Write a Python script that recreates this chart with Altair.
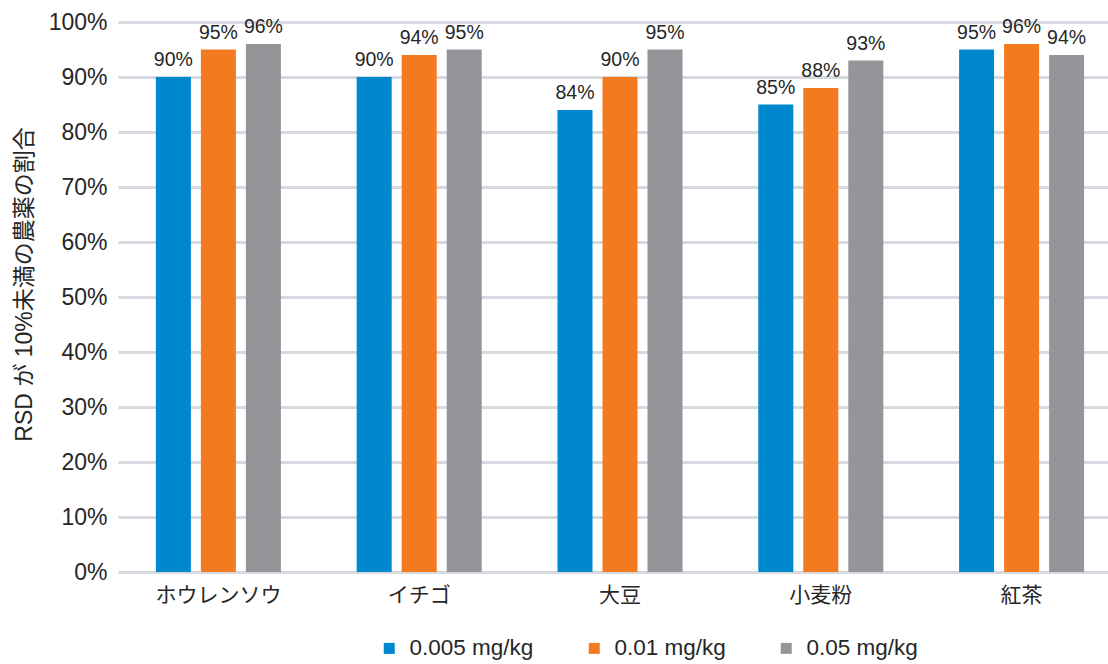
import altair as alt
import pandas as pd

# Share of pesticides with RSD below 10%, per matrix and spiking level
foods = ["ホウレンソウ", "イチゴ", "大豆", "小麦粉", "紅茶"]
levels = ["0.005 mg/kg", "0.01 mg/kg", "0.05 mg/kg"]
pct_0005 = [90, 90, 84, 85, 95]
pct_001 = [95, 94, 90, 88, 96]
pct_005 = [96, 95, 95, 93, 94]
level_colors = ["#0088cf", "#f47a20", "#939598"]
y_ticks = [0, 10, 20, 30, 40, 50, 60, 70, 80, 90, 100]

rows = []
for lvl, vals in zip(levels, [pct_0005, pct_001, pct_005]):
    for food, v in zip(foods, vals):
        rows.append({"food": food, "level": lvl, "pct": v / 100})
df = pd.DataFrame(rows)

FONT = "Liberation Sans, Noto Sans CJK JP, sans-serif"
TEXT = "#262626"

x_enc = alt.X(
    "food:N",
    sort=foods,
    scale=alt.Scale(range=[0, 1004], paddingInner=0.3275, paddingOuter=0.16375),
    axis=alt.Axis(
        title=None, labelAngle=0, domain=False, ticks=False,
        labelPadding=12, labelFontSize=21, labelColor=TEXT, labelFont=FONT,
    ),
)
xo_enc = alt.XOffset(
    "level:N", sort=levels,
    scale=alt.Scale(paddingInner=0.222, paddingOuter=0.111),
)
y_enc = alt.Y(
    "pct:Q",
    scale=alt.Scale(domain=[0, 1], nice=False),
    axis=alt.Axis(
        values=[t / 100 for t in y_ticks], format=".0%",
        title="RSD が 10%未満の農薬の割合",
        grid=True, gridColor="#d6dae0", gridWidth=3,
        domain=False, ticks=False,
        labelPadding=11, labelFontSize=23, labelColor=TEXT, labelFont=FONT,
        titleFontSize=23, titleFontWeight="normal", titleColor=TEXT, titleFont=FONT,
        titleX=-94, titleY=262, titleBaseline="middle",
    ),
)
color_enc = alt.Color(
    "level:N", sort=levels,
    scale=alt.Scale(domain=levels, range=level_colors),
    legend=alt.Legend(
        orient="none", legendX=260, legendY=615, direction="horizontal",
        title=None, symbolType="square", symbolSize=121, symbolStrokeWidth=0,
        symbolOpacity=1, labelFontSize=22.5, labelFont=FONT, labelColor=TEXT,
        columnPadding=49, labelOffset=9, padding=0,
    ),
)

bars = alt.Chart(df).mark_bar(opacity=1).encode(
    x=x_enc, xOffset=xo_enc, y=y_enc, color=color_enc
)

labels = alt.Chart(df).mark_text(
    dy=-11, baseline="alphabetic", fontSize=19.5, color=TEXT, font=FONT
).encode(
    x=alt.X("food:N", sort=foods),
    xOffset=alt.XOffset("level:N", sort=levels),
    y="pct:Q",
    text=alt.Text("pct:Q", format=".0%"),
)

chart = (
    alt.layer(bars, labels)
    .properties(
        width=990, height=550,
        autosize=alt.AutoSizeParams(type="none"),
        padding={"left": 118, "top": 22, "right": 0, "bottom": 92},
        background="white",
    )
    .configure_view(stroke=None)
)

chart.save("out.html", embed_options={"renderer": "svg", "actions": False})
